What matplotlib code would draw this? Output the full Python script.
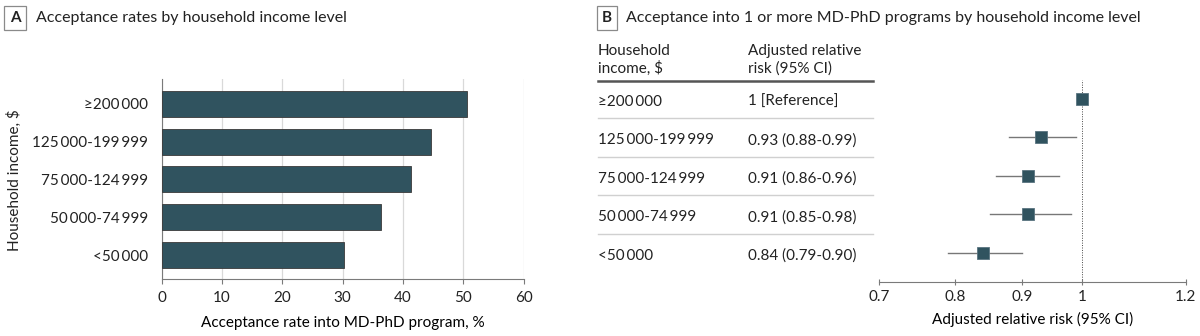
import matplotlib
matplotlib.use("Agg")
import matplotlib.pyplot as plt
import matplotlib.transforms as mtransforms

plt.rcParams["font.family"] = ["Lato", "DejaVu Sans"]
plt.rcParams["font.size"] = 11
plt.rcParams["text.color"] = "#222222"
plt.rcParams["xtick.color"] = "#222222"
plt.rcParams["ytick.color"] = "#222222"

TS = "\u2009"  # thin space used as thousands separator

# Household income categories, top to bottom
income_levels = [
    f"≥200{TS}000",
    f"125{TS}000-199{TS}999",
    f"75{TS}000-124{TS}999",
    f"50{TS}000-74{TS}999",
    f"<50{TS}000",
]

# Panel A: acceptance rate into MD-PhD program, %
acceptance_rate = [50.7, 44.7, 41.4, 36.3, 30.3]

# Panel B: adjusted relative risk with 95% CI (first row is the reference)
rr = [1.0, 0.93, 0.91, 0.91, 0.84]
rr_low = [None, 0.88, 0.86, 0.85, 0.79]
rr_high = [None, 0.99, 0.96, 0.98, 0.90]

bar_color = "#30535f"
axis_grey = "#7a7a7a"
grid_grey = "#d9d9d9"

n = len(income_levels)
ypos = [n - 1 - i for i in range(n)]

fig = plt.figure(figsize=(12, 3.36), dpi=100)

# ---- Panel A: horizontal bars ----
ax_a = fig.add_axes([0.13475, 0.1696, 0.3015, 0.5944])
ax_a.barh(ypos, acceptance_rate, height=0.69, color=bar_color,
          edgecolor="#3a3a3a", linewidth=0.6, zorder=3)
ax_a.set_xlim(0, 60)
ax_a.set_ylim(-0.635, n - 1 + 0.648)
ax_a.set_xticks(range(0, 61, 10))
ax_a.set_yticks(ypos)
ax_a.set_yticklabels(income_levels)
ax_a.tick_params(axis="y", length=0, pad=10)
ax_a.tick_params(axis="x", length=3.6, width=0.8, color=axis_grey, pad=5)
ax_a.grid(axis="x", color=grid_grey, linewidth=0.9, zorder=0)
for side in ["top", "right"]:
    ax_a.spines[side].set_visible(False)
ax_a.spines["left"].set_color(axis_grey)
ax_a.spines["bottom"].set_color(axis_grey)
ax_a.spines["left"].set_linewidth(0.8)
ax_a.spines["bottom"].set_linewidth(0.8)
ax_a.set_xlabel("Acceptance rate into MD-PhD program, %", labelpad=8)
fig.text(14 / 1200, 1 - 180 / 336, "Household income, $", rotation=90,
         ha="center", va="center")

# ---- Panel B: forest plot with table ----
ax_b = fig.add_axes([0.7325, 0.1622, 0.2558, 0.5997])
ax_b.set_xscale("log")
ax_b.set_xlim(0.7, 1.2)
ax_b.set_ylim(-0.74, n - 1 + 0.49)
ax_b.axvline(1.0, color="#444444", linestyle=(0, (1, 1.5)), linewidth=0.7, zorder=1)
for y, r, lo, hi in zip(ypos, rr, rr_low, rr_high):
    if lo is not None:
        ax_b.plot([lo, hi], [y, y], color="#777777", linewidth=1.0, zorder=2)
    ax_b.plot(r, y, marker="s", markersize=8.5, color=bar_color,
              markeredgecolor="#5a7480", markeredgewidth=0.6, zorder=3)
ticks_b = [0.7, 0.8, 0.9, 1.0, 1.2]
ax_b.set_xticks(ticks_b)
ax_b.set_xticklabels(["0.7", "0.8", "0.9", "1", "1.2"])
ax_b.xaxis.set_minor_locator(matplotlib.ticker.NullLocator())
ax_b.set_yticks([])
ax_b.tick_params(axis="x", direction="inout", length=4, width=0.8,
                 color=axis_grey, pad=4)
for side in ["top", "right", "left"]:
    ax_b.spines[side].set_visible(False)
ax_b.spines["bottom"].set_color(axis_grey)
ax_b.spines["bottom"].set_linewidth(0.8)
ax_b.set_xlabel("Adjusted relative risk (95% CI)", labelpad=6)

# table columns to the left of the forest plot
tr = mtransforms.blended_transform_factory(fig.transFigure, ax_b.transData)
col1 = 598 / 1200
col2 = 748 / 1200
table_right = 873 / 1200
header_y = n - 1 + 0.47
for y, label, r, lo, hi in zip(ypos, income_levels, rr, rr_low, rr_high):
    if lo is None:
        rr_text = f"{r:.0f} [Reference]"
    else:
        rr_text = f"{r:.2f} ({lo:.2f}-{hi:.2f})"
    ax_b.text(col1, y - 0.07, label, transform=tr, ha="left", va="center",
              clip_on=False)
    ax_b.text(col2, y - 0.07, rr_text, transform=tr, ha="left", va="center",
              clip_on=False)
for y in ypos[:-1]:
    ax_b.plot([col1, table_right], [y - 0.5, y - 0.5], transform=tr,
              color="#d0d0d0", linewidth=1.0, clip_on=False)
ax_b.plot([col1, table_right], [header_y, header_y], transform=tr,
          color="#555555", linewidth=1.8, clip_on=False)
fig.text(col1, 1 - 60 / 336, "Household\nincome, $", ha="left", va="center",
         linespacing=1.25)
fig.text(col2, 1 - 60 / 336, "Adjusted relative\nrisk (95% CI)", ha="left",
         va="center", linespacing=1.25)

# ---- Panel titles with boxed letters ----
box = dict(boxstyle="square,pad=0.35", facecolor="white", edgecolor="#8a8a8a",
           linewidth=0.9)
fig.text(15 / 1200, 1 - 18 / 336, "A", ha="center", va="center",
         fontweight="bold", bbox=box)
fig.text(36 / 1200, 1 - 18 / 336, "Acceptance rates by household income level",
         ha="left", va="center", fontsize=11.5)
fig.text(607 / 1200, 1 - 18 / 336, "B", ha="center", va="center",
         fontweight="bold", bbox=box)
fig.text(626 / 1200, 1 - 18 / 336,
         "Acceptance into 1 or more MD-PhD programs by household income level",
         ha="left", va="center", fontsize=11.5)

fig.savefig("out.png", dpi=100, facecolor="white")
